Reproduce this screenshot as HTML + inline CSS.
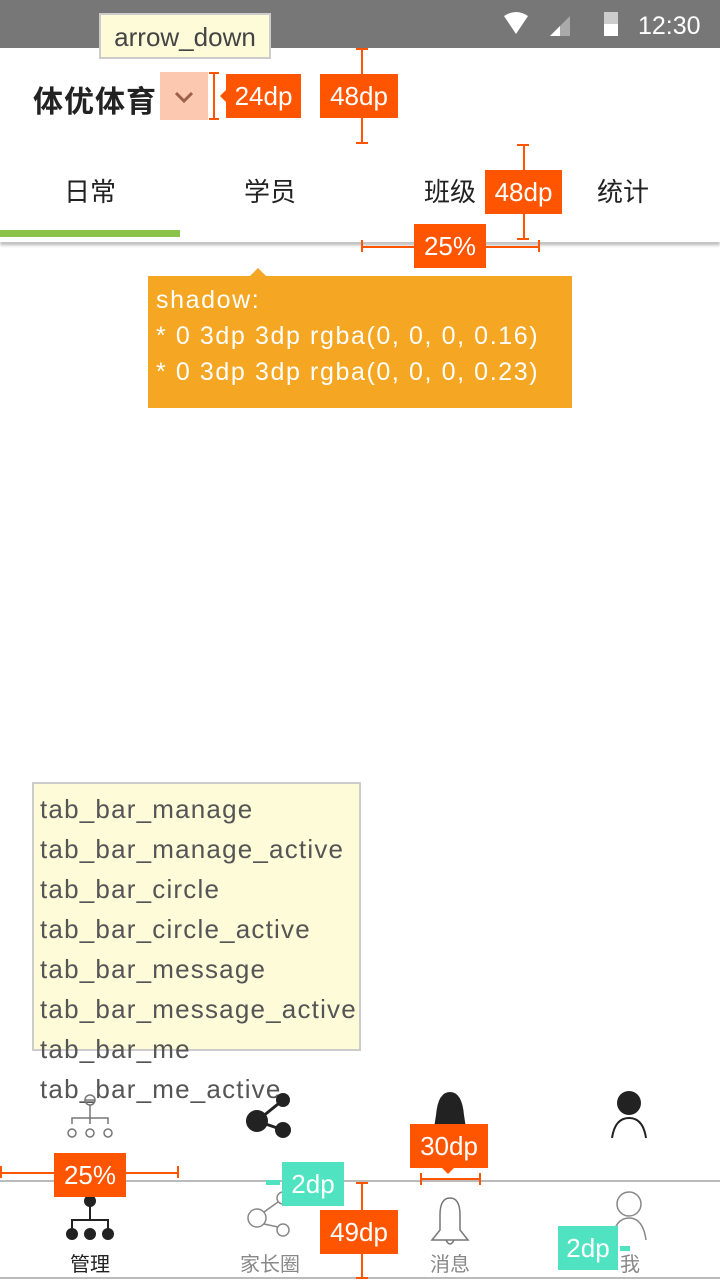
<!DOCTYPE html>
<html><head><meta charset="utf-8"><style>
*{margin:0;padding:0;box-sizing:border-box}
body{width:720px;height:1280px;position:relative;overflow:hidden;background:#fff;font-family:"Liberation Sans","Noto Sans CJK SC",sans-serif}
.a{position:absolute}
.o{position:absolute;background:#ff5500;color:#fff;font-size:26px;text-align:center;line-height:44px}
.t{position:absolute;background:#50e3c2;color:#fff;font-size:26px;text-align:center;line-height:44px}
.vl{position:absolute;width:2px;background:#ff5500}
.hl{position:absolute;height:2px;background:#ff5500}
.tab{position:absolute;top:172px;font-size:26px;color:#222;width:180px;text-align:center}
.yl div{height:40px;line-height:40px}
.lb{position:absolute;top:1248px;font-size:20px;color:#888;width:180px;text-align:center}
</style></head><body>
<div class="a" style="left:0;top:0;width:720px;height:48px;background:#777"></div>
<svg class="a" style="left:500px;top:10px" width="210" height="30">
<path d="M4 6 Q16 -2 28 6 L16 24 Z" fill="#fff"/>
<path d="M50 26 L70 6 L70 26 Z" fill="#aaa"/><path d="M50 26 L60 16 L60 26Z" fill="#fff"/>
<rect x="104" y="2" width="14" height="24" fill="#ccc"/><rect x="104" y="14" width="14" height="12" fill="#fff"/>
<text x="138" y="24" fill="#fff" font-size="25" font-family="Liberation Sans">12:30</text></svg>
<div class="a" style="left:99px;top:13px;width:172px;height:46px;background:#fefbd9;border:2px solid #ccc;font-size:26px;color:#444;line-height:44px;text-align:center">arrow_down</div>
<div class="a" style="left:33px;top:77px;font-size:30px;font-weight:bold;color:#222;letter-spacing:1px">体优体育</div>
<div class="a" style="left:160px;top:72px;width:48px;height:48px;background:#fcc9b0"></div>
<svg class="a" style="left:160px;top:72px" width="48" height="48"><path d="M16 21 L24 29 L32 21" stroke="#9b6048" stroke-width="3" fill="none"/></svg>
<div class="vl" style="left:213px;top:73px;height:46px"></div><div class="hl" style="left:209px;top:72px;width:10px"></div><div class="hl" style="left:209px;top:118px;width:10px"></div>
<div class="a" style="left:220px;top:90px;border-top:6px solid transparent;border-bottom:6px solid transparent;border-right:6px solid #ff5500"></div>
<div class="o" style="left:226px;top:74px;width:75px">24dp</div>
<div class="vl" style="left:361px;top:48px;height:96px"></div><div class="hl" style="left:356px;top:48px;width:12px"></div><div class="hl" style="left:356px;top:142px;width:12px"></div>
<div class="o" style="left:320px;top:74px;width:78px">48dp</div>
<div class="tab" style="left:0">日常</div><div class="tab" style="left:180px">学员</div><div class="tab" style="left:360px">班级</div><div class="tab" style="left:533px">统计</div>
<div class="a" style="left:0;top:230px;width:180px;height:7px;background:#8bc34a"></div>
<div class="a" style="left:0;top:238px;width:720px;height:4px;box-shadow:0 3px 3px rgba(0,0,0,.3)"></div>
<div class="vl" style="left:523px;top:145px;height:94px"></div><div class="hl" style="left:517px;top:144px;width:12px"></div><div class="hl" style="left:517px;top:238px;width:12px"></div>
<div class="o" style="left:485px;top:170px;width:77px">48dp</div>
<div class="hl" style="left:361px;top:246px;width:178px"></div><div class="vl" style="left:361px;top:240px;height:12px"></div><div class="vl" style="left:538px;top:240px;height:12px"></div>
<div class="o" style="left:414px;top:224px;width:72px">25%</div>
<div class="a" style="left:250px;top:268px;width:0;height:0;border-left:8px solid transparent;border-right:8px solid transparent;border-bottom:8px solid #f5a623"></div>
<div class="a" style="left:148px;top:276px;width:424px;height:132px;background:#f5a623;color:#fff;font-size:25px;line-height:36px;padding:6px 8px;letter-spacing:1.6px;white-space:nowrap">shadow:<br>* 0 3dp 3dp rgba(0, 0, 0, 0.16)<br>* 0 3dp 3dp rgba(0, 0, 0, 0.23)</div>
<div class="a" style="left:32px;top:782px;width:329px;height:269px;background:#fefbd9;border:2px solid #ccc"></div>
<div class="a yl" style="left:40px;top:789px;font-size:26px;color:#555;white-space:nowrap;letter-spacing:1.2px"><div>tab_bar_manage</div><div>tab_bar_manage_active</div><div>tab_bar_circle</div><div>tab_bar_circle_active</div><div>tab_bar_message</div><div>tab_bar_message_active</div><div>tab_bar_me</div><div>tab_bar_me_active</div></div>
<svg class="a" style="left:0;top:1090px" width="720" height="190">
<g stroke="#777" stroke-width="1.5" fill="none"><circle cx="90" cy="10" r="5"/><line x1="85" y1="10" x2="95" y2="10"/><path d="M90 15V28 M72 34V28H108V34 M90 28V34"/><circle cx="72" cy="43" r="4"/><circle cx="90" cy="43" r="4"/><circle cx="108" cy="43" r="4"/></g>
<g fill="#222"><circle cx="257" cy="31" r="11"/><circle cx="283" cy="10" r="7"/><circle cx="283" cy="40" r="8"/><path d="M257 31L283 10M257 31L283 40" stroke="#222" stroke-width="3"/></g>
<path d="M433 45 L436 25 Q438 2 450 2 Q462 2 464 25 L467 45Z" fill="#222"/>
<circle cx="629" cy="13" r="12" fill="#222"/><path d="M612 48 Q615 28 629 28 Q643 28 646 48" stroke="#222" stroke-width="2" fill="none"/>
<line x1="0" y1="91" x2="720" y2="91" stroke="#bbb" stroke-width="2"/>
<line x1="0" y1="188" x2="720" y2="188" stroke="#bbb" stroke-width="2"/>
<g fill="#222"><circle cx="90" cy="111" r="6"/><path d="M90 116V130M72 140V130H108V140" stroke="#222" stroke-width="2" fill="none"/><circle cx="72" cy="144" r="6"/><circle cx="90" cy="144" r="6"/><circle cx="108" cy="144" r="6"/></g>
<g stroke="#888" stroke-width="1.5" fill="none"><circle cx="257" cy="128" r="9"/><circle cx="283" cy="108" r="6"/><circle cx="283" cy="140" r="6"/><path d="M264 122L278 112M264 134L278 137"/></g>
<path d="M432 150 L440 140 L440 125 Q440 108 450 108 Q460 108 460 125 L460 140 L468 150Z M446 150 Q450 158 454 150" stroke="#777" stroke-width="1.5" fill="none"/>
<g stroke="#888" stroke-width="1.5" fill="none"><circle cx="629" cy="114" r="12"/><path d="M612 150 Q615 128 629 128 Q643 128 646 150"/></g>
</svg>
<div class="hl" style="left:0;top:1172px;width:178px"></div><div class="vl" style="left:0;top:1166px;height:12px"></div><div class="vl" style="left:177px;top:1166px;height:12px"></div>
<div class="o" style="left:54px;top:1153px;width:72px">25%</div>
<div class="hl" style="left:420px;top:1178px;width:60px"></div><div class="vl" style="left:420px;top:1173px;height:12px"></div><div class="vl" style="left:479px;top:1173px;height:12px"></div>
<div class="o" style="left:410px;top:1124px;width:78px">30dp</div>
<div class="a" style="left:442px;top:1168px;border-left:6px solid transparent;border-right:6px solid transparent;border-top:6px solid #ff5500"></div>
<div class="vl" style="left:361px;top:1182px;height:96px"></div><div class="hl" style="left:356px;top:1182px;width:12px"></div><div class="hl" style="left:356px;top:1277px;width:12px"></div>
<div class="o" style="left:320px;top:1210px;width:78px">49dp</div>
<div class="a" style="left:266px;top:1180px;width:14px;height:5px;background:#50e3c2"></div>
<div class="t" style="left:282px;top:1162px;width:62px">2dp</div>
<div class="a" style="left:620px;top:1246px;width:10px;height:5px;background:#50e3c2"></div>
<div class="t" style="left:558px;top:1226px;width:60px">2dp</div>
<div class="lb" style="left:0;color:#222">管理</div><div class="lb" style="left:180px">家长圈</div><div class="lb" style="left:360px">消息</div><div class="lb" style="left:540px">我</div>
</body></html>
